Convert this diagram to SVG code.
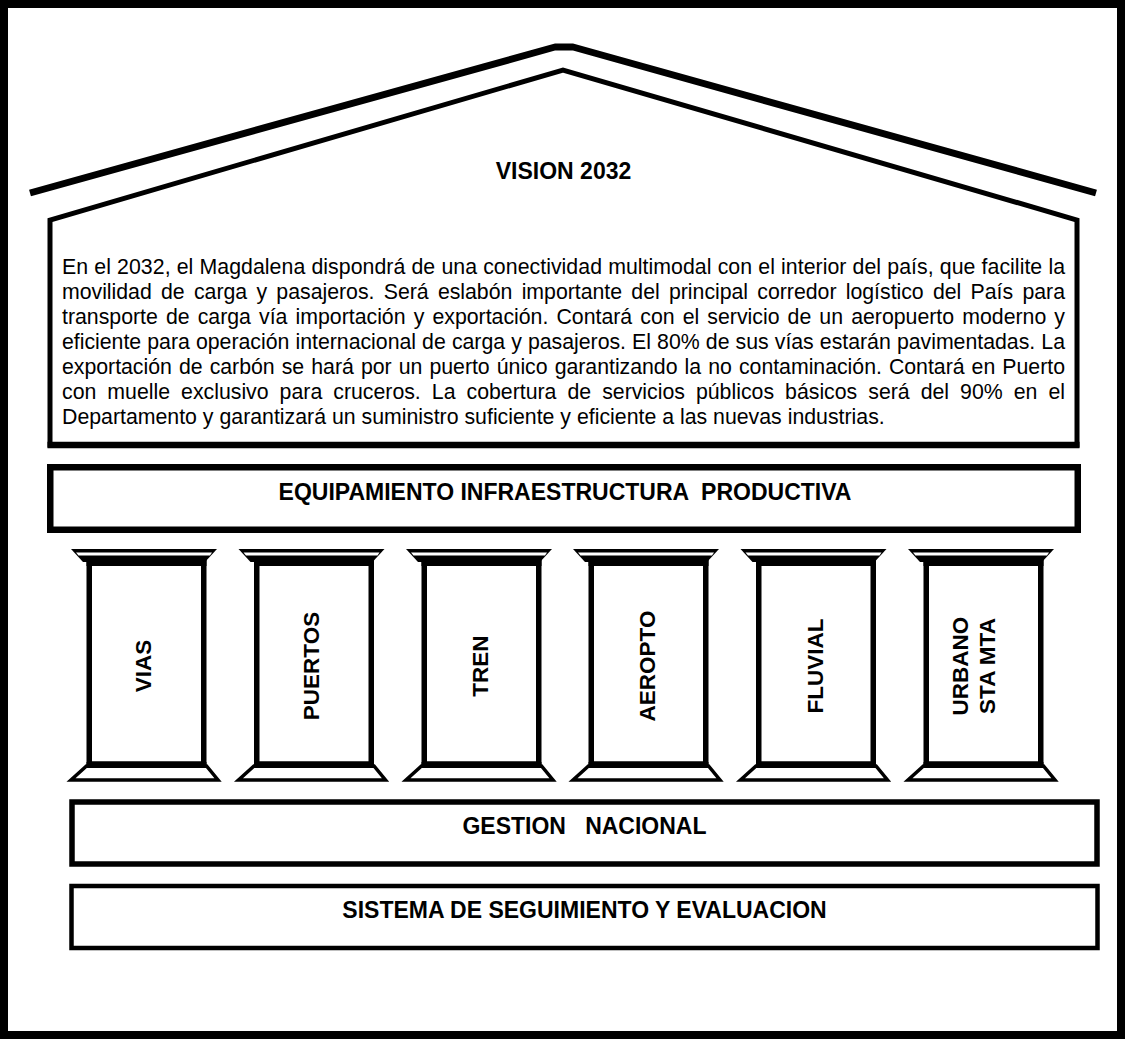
<svg xmlns="http://www.w3.org/2000/svg" xmlns:xlink="http://www.w3.org/1999/xlink" width="1125" height="1039" viewBox="0 0 1125 1039">
  <style>
    .ink { fill: none; stroke: #000; }
    .box { fill: #fff; stroke: #000; }
    .para { font-family: "Liberation Sans", Arial, sans-serif; font-size: 21.3px; fill: #000; }
    .head { font-family: "Liberation Sans", Arial, sans-serif; font-weight: bold; font-size: 23px; fill: #000; text-anchor: middle; }
    .col { font-family: "Liberation Sans", Arial, sans-serif; font-weight: bold; font-size: 22.5px; fill: #000; text-anchor: middle; }
  </style>
  <defs>
    <!-- one column: capital, shaft and base; x measured from the capital's left corner -->
    <g id="column-shape">
      <rect x="18.25" y="562" width="114.5" height="202" fill="#fff" stroke="#000" stroke-width="5.5"/>
      <polygon points="0,549 146,549 134,562 12,562" fill="#000"/>
      <polygon points="5,552.5 141,552.5 139,555.5 7.5,555.5" fill="#fff"/>
      <rect x="15.5" y="557" width="120" height="9" fill="#000"/>
      <polygon points="15.5,766 135.5,766 147,780 0,780" fill="#fff" stroke="#000" stroke-width="3.5" stroke-linejoin="miter"/>
      <rect x="15.5" y="762" width="120" height="6" fill="#000"/>
    </g>
  </defs>

  <rect width="1125" height="1039" fill="#fff"/>
  <!-- outer frame -->
  <rect x="4" y="4" width="1117" height="1031" class="ink" stroke-width="8"/>

  <!-- roof -->
  <g id="roof">
    <polyline points="30,193 555,47 573,47 1096,193" class="ink" stroke-width="7" stroke-linejoin="round"/>
  </g>

  <!-- vision statement under the roof -->
  <g id="vision">
    <path d="M50,445 V220 L563,70 L1077,220 V445 Z" class="box" stroke-width="5"/>
    <line x1="47.5" y1="445" x2="1079.5" y2="445" stroke="#000" stroke-width="6.5"/>
    <text x="563.5" y="179" class="head" font-size="22.5">VISION 2032</text>
    <g class="para">
      <text x="62" y="274" word-spacing="0.2" textLength="1003" lengthAdjust="spacing">En el 2032, el Magdalena dispondrá de una conectividad multimodal con el interior del país, que facilite la</text>
      <text x="62" y="299" word-spacing="3.4" textLength="1003" lengthAdjust="spacing">movilidad de carga y pasajeros. Será eslabón importante del principal corredor logístico del País para</text>
      <text x="62" y="324" word-spacing="2.2" textLength="1003" lengthAdjust="spacing">transporte de carga vía importación y exportación. Contará con el servicio de un aeropuerto moderno y</text>
      <text x="62" y="349" word-spacing="0.2" textLength="1003" lengthAdjust="spacing">eficiente para operación internacional de carga y pasajeros. El 80% de sus vías estarán pavimentadas. La</text>
      <text x="62" y="374" word-spacing="1.2" textLength="1003" lengthAdjust="spacing">exportación de carbón se hará por un puerto único garantizando la no contaminación. Contará en Puerto</text>
      <text x="62" y="399" word-spacing="5.1" textLength="1003" lengthAdjust="spacing">con muelle exclusivo para cruceros. La cobertura de servicios públicos básicos será del 90% en el</text>
      <text x="62" y="424">Departamento y garantizará un suministro suficiente y eficiente a las nuevas industrias.</text>
    </g>
  </g>

  <!-- beam -->
  <g id="equipamiento">
    <rect x="50.25" y="467.25" width="1027.5" height="62.5" class="box" stroke-width="6.5"/>
    <text x="565" y="500" class="head" font-size="23.5" xml:space="preserve">EQUIPAMIENTO INFRAESTRUCTURA  PRODUCTIVA</text>
  </g>

  <!-- columns -->
  <g id="col-vias">
    <use xlink:href="#column-shape" transform="translate(71,0)"/>
    <text class="col" transform="translate(151,666) rotate(-90)">VIAS</text>
  </g>
  <g id="col-puertos">
    <use xlink:href="#column-shape" transform="translate(238.5,0)"/>
    <text class="col" transform="translate(319,666) rotate(-90)">PUERTOS</text>
  </g>
  <g id="col-tren">
    <use xlink:href="#column-shape" transform="translate(406,0)"/>
    <text class="col" transform="translate(487.5,666) rotate(-90)">TREN</text>
  </g>
  <g id="col-aeropto">
    <use xlink:href="#column-shape" transform="translate(573,0)"/>
    <text class="col" transform="translate(655,666) rotate(-90)">AEROPTO</text>
  </g>
  <g id="col-fluvial">
    <use xlink:href="#column-shape" transform="translate(740.5,0)"/>
    <text class="col" transform="translate(822.5,666) rotate(-90)">FLUVIAL</text>
  </g>
  <g id="col-urbano">
    <use xlink:href="#column-shape" transform="translate(908,0)"/>
    <text class="col" transform="translate(968,666) rotate(-90)">URBANO</text>
    <text class="col" transform="translate(994.5,666) rotate(-90)">STA MTA</text>
  </g>

  <!-- foundations -->
  <g id="gestion">
    <rect x="72" y="802" width="1025" height="62" class="box" stroke-width="5.5"/>
    <text x="584.5" y="834" class="head" xml:space="preserve">GESTION   NACIONAL</text>
  </g>
  <g id="seguimiento">
    <rect x="71.5" y="886" width="1026" height="62" class="box" stroke-width="4.5"/>
    <text x="584.5" y="918" class="head">SISTEMA DE SEGUIMIENTO Y EVALUACION</text>
  </g>

  <g id="connectors"/>
</svg>
